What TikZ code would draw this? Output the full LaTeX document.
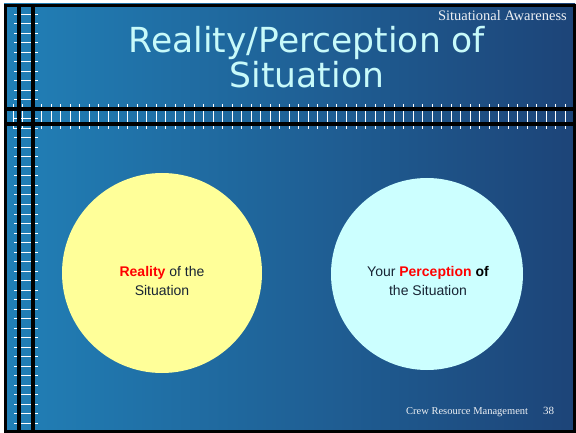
\documentclass[tikz,border=0pt]{standalone}
\usepackage{fontspec}
\setmainfont{Liberation Serif}
\setsansfont{Liberation Sans}
\newfontfamily\headfont{DejaVu Sans}
\usetikzlibrary{calc}
\definecolor{slideleft}{RGB}{33,128,183}
\definecolor{slidemid}{RGB}{32,108,164}
\definecolor{slideright}{RGB}{29,68,120}
\definecolor{headcyan}{RGB}{200,250,250}
\definecolor{realityfill}{RGB}{255,255,153}
\definecolor{perceptfill}{RGB}{204,255,255}
\definecolor{bodytext}{RGB}{24,36,52}
\newcommand{\hot}[1]{{\bfseries\color{red}#1}}
\tikzset{
  bar/.style={fill=black},
  tick/.style={white, line width=1pt},
  headline/.style={anchor=base, text=headcyan, inner sep=0pt, font=\headfont\fontsize{34.5}{38}\selectfont},
  corner/.style={anchor=base east, text=white!92!slideright, inner sep=0pt},
  bubble/.style={circle, inner sep=0pt, draw=none},
  caption/.style={anchor=base, align=center, inner sep=0pt, text=bodytext, font=\sffamily\fontsize{14}{19}\selectfont}}

\begin{document}
\begin{tikzpicture}[x=1pt,y=-1pt]
    \useasboundingbox (0,0) rectangle (576,433);
    \fill[white] (0,0) rectangle (576,433);
    \shade[left color=slideleft, middle color=slidemid, right color=slideright] (4,4) rectangle (575,431);
    % ruler ticks
    \foreach \k in {0,...,58} \draw[tick] (13.3+9.52*\k,104) -- ++(0,25);
    \foreach \k in {0,...,43} \draw[tick] (14,14.3+9.51*\k) -- ++(24,0);
    % black bars and frame
    \fill[bar] (17,4) rectangle (21,431);
    \fill[bar] (31,4) rectangle (35,431);
    \fill[bar] (4,107) rectangle (575,111);
    \fill[bar] (4,122) rectangle (575,126);
    \draw[line width=3pt] (5.5,5.5) rectangle (574.5,431.5);
    % headings
    \node[headline] (headA) at (307,53) {Reality/Perception of};
    \node[headline] (headB) at (307,88) {Situation};
    \node[corner, font=\fontsize{14.5}{16}\selectfont] (topic) at (567,21) {Situational Awareness};
    \node[corner, anchor=base west, font=\fontsize{10.5}{13}\selectfont] (footer) at (406,414) {Crew Resource Management};
    \node[corner, anchor=base west, font=\fontsize{11}{13}\selectfont] (pagenum) at (543,414) {38};
    % the two circles
    \node[bubble, fill=realityfill, minimum size=200pt] (reality) at (162,273) {};
    \node[bubble, fill=perceptfill, minimum size=192pt] (perception) at (427,274) {};
    \node[caption] (realitytext) at (162,295) {\hot{Reality} of the\\Situation};
    \node[caption] (percepttext) at (428,295) {Your \hot{Perception} {\bfseries\color{black}of}\\the Situation};
\end{tikzpicture}
\end{document}
